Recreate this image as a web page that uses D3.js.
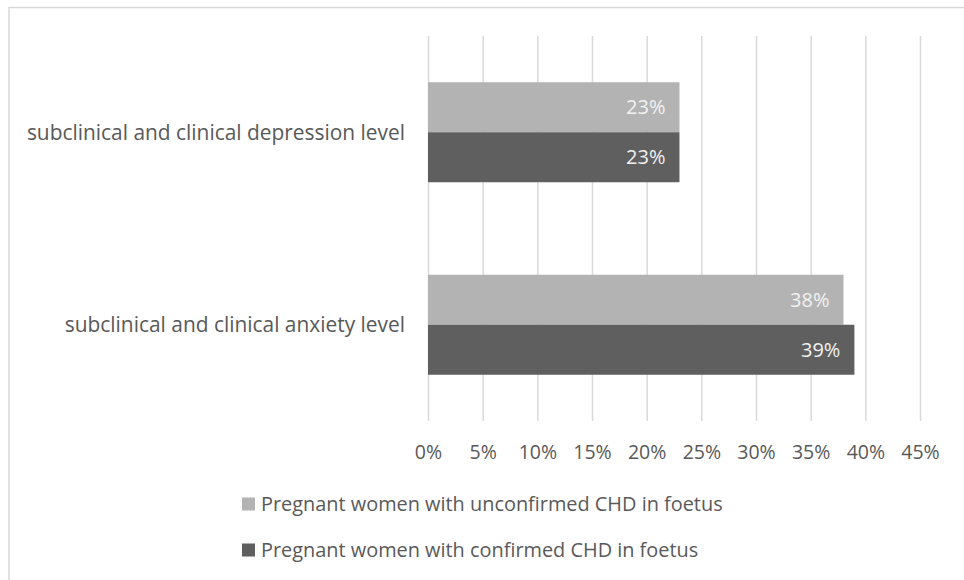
<!DOCTYPE html>
<html><head><meta charset="utf-8">
<script src="https://cdn.jsdelivr.net/npm/d3@7"></script>
<style>body{margin:0;background:#fff}svg{display:block;font-family:"Open Sans",sans-serif}</style>
</head><body><svg id="c" width="964" height="580"></svg>
<script>
const categories = ["subclinical and clinical depression level", "subclinical and clinical anxiety level"];
const seriesNames = ["Pregnant women with unconfirmed CHD in foetus", "Pregnant women with confirmed CHD in foetus"];
const unconfirmed = [0.23, 0.38];
const confirmed = [0.23, 0.39];
const tickValues = [0, 0.05, 0.10, 0.15, 0.20, 0.25, 0.30, 0.35, 0.40, 0.45];
const colors = ["#b3b3b3", "#5f5f5f"];

const svg = d3.select("#c");
svg.append("rect").attr("x", 9).attr("y", 7.5).attr("width", 970).attr("height", 600)
  .attr("fill", "none").attr("stroke", "#d9d9d9").attr("stroke-width", 1.5);

const x = d3.scaleLinear().domain([0, 0.45]).range([428, 920]);
const y = d3.scaleBand().domain(categories).range([36, 421]);
const values = [unconfirmed, confirmed];
const sub = d3.scaleBand().domain([0, 1]).range([0, 100]);

svg.append("g").attr("transform", "translate(0,421)")
  .call(d3.axisBottom(x).tickValues(tickValues).tickSize(-385).tickFormat(d3.format(".0%")))
  .call(g => g.select(".domain").remove())
  .call(g => g.selectAll(".tick line").attr("stroke", "#d9d9d9").attr("stroke-width", 1.5))
  .call(g => g.selectAll(".tick text").attr("fill", "#595959").attr("font-size", 19.5).attr("y", 31).attr("dy", "0.35em")
     .attr("font-family", "'Open Sans', sans-serif"));

categories.forEach((c, i) => {
  const cy = y(c) + y.bandwidth() / 2;
  svg.append("text").attr("x", 405).attr("y", cy).attr("dy", "0.35em").attr("text-anchor", "end")
    .attr("fill", "#595959").attr("font-size", 20.9).text(c);
  values.forEach((vals, s) => {
    const top = cy - 50 + sub(s);
    svg.append("rect").attr("x", x(0)).attr("y", top).attr("width", x(vals[i]) - x(0)).attr("height", sub.bandwidth())
      .attr("fill", colors[s]);
    svg.append("text").attr("x", x(vals[i]) - 14).attr("y", top + sub.bandwidth() / 2).attr("dy", "0.35em")
      .attr("text-anchor", "end").attr("fill", "#f2f2f2").attr("font-size", 20).text(d3.format(".0%")(vals[i]));
  });
});

seriesNames.forEach((n, s) => {
  const ly = 504 + s * 46;
  svg.append("rect").attr("x", 242).attr("y", ly - 6.5).attr("width", 13).attr("height", 13).attr("fill", colors[s]);
  svg.append("text").attr("x", 261).attr("y", ly).attr("dy", "0.35em").attr("fill", "#595959").attr("font-size", 19.9).text(n);
});
</script></body></html>
